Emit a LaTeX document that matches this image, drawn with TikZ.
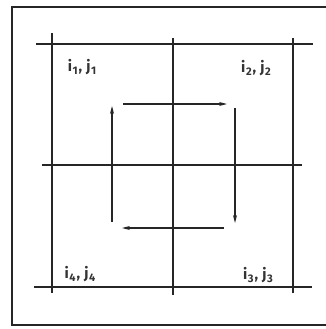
\documentclass[tikz,border=0pt]{standalone}
\usepackage{fontspec}
\setmainfont{Fira Sans}
\usetikzlibrary{arrows.meta}
\newcommand{\lsub}[1]{\kern0.6pt\raisebox{-2.8pt}{\fontsize{11}{13}\selectfont #1}}
\newcommand{\lpair}[1]{i\lsub{#1}\kern1pt,\kern4pt j\lsub{#1}}
\begin{document}
\begin{tikzpicture}[x=1pt,y=-1pt,
  frame/.style={line width=1.6pt,black!85},
  gridline/.style={line width=1.1pt,black!85},
  flow/.style={line width=1.1pt,black!85,-{Stealth[length=8pt,width=4pt]}},
  lab/.style={font=\fontsize{15}{17}\selectfont\bfseries,text=black!80,inner sep=0pt}]
\useasboundingbox (0,0) rectangle (325,329);
% outer frame (open to the right)
\draw[frame] (340,7) -- (12,7) -- (12,325) -- (340,325);
% horizontal lines
\coordinate (h1a) at (36,44);  \coordinate (h1b) at (313,44);
\coordinate (h2a) at (42,165); \coordinate (h2b) at (302,165);
\coordinate (h3a) at (34,287); \coordinate (h3b) at (312,287);
\draw[gridline] (h1a) -- (h1b);
\draw[gridline] (h2a) -- (h2b);
\draw[gridline] (h3a) -- (h3b);
% vertical lines
\coordinate (v1a) at (52,33);  \coordinate (v1b) at (52,293);
\coordinate (v2a) at (173,38); \coordinate (v2b) at (173,295);
\coordinate (v3a) at (293,38); \coordinate (v3b) at (293,293);
\draw[gridline] (v1a) -- (v1b);
\draw[gridline] (v2a) -- (v2b);
\draw[gridline] (v3a) -- (v3b);
% labels
\node[lab] (p1) at (82,67) {\lpair{1}};
\node[lab] (p2) at (256,68) {\lpair{2}};
\node[lab] (p3) at (258,275) {\lpair{3}};
\node[lab] (p4) at (80,274) {\lpair{4}};
% circulation arrows
\coordinate (a1s) at (123,104); \coordinate (a1e) at (227,104);
\coordinate (a2s) at (235,108); \coordinate (a2e) at (235,223);
\coordinate (a3s) at (224,228); \coordinate (a3e) at (122,228);
\coordinate (a4s) at (112,222); \coordinate (a4e) at (112,106);
\draw[flow] (a1s) -- (a1e);
\draw[flow] (a2s) -- (a2e);
\draw[flow] (a3s) -- (a3e);
\draw[flow] (a4s) -- (a4e);
\end{tikzpicture}
\end{document}
